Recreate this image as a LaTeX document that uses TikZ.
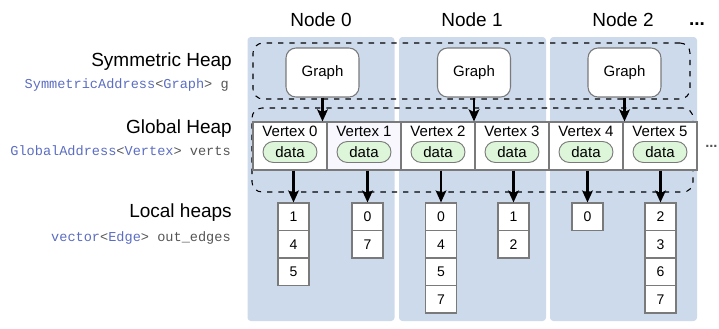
\documentclass[tikz,border=0pt]{standalone}
\usepackage{fontspec}
\setmainfont{Liberation Sans}
\setmonofont{Liberation Mono}
\usetikzlibrary{arrows.meta}
\definecolor{colfill}{HTML}{CCDAEC}
\definecolor{codeblue}{HTML}{5B6DC2}
\definecolor{codegray}{HTML}{555555}
\definecolor{datafill}{HTML}{DDF5D8}
\definecolor{cellgray}{HTML}{7A7A7A}
\definecolor{lightcell}{HTML}{F7F7FD}
\tikzset{
  colbox/.style={fill=colfill, draw=none, rounded corners=2.5pt, minimum width=110.25pt, minimum height=213pt, inner sep=0pt},
  nodelabel/.style={font=\fontsize{14.25}{16}\selectfont, inner sep=0pt},
  heading/.style={font=\fontsize{14.25}{16}\selectfont, anchor=east, inner sep=0pt},
  codelabel/.style={font=\fontsize{10.2}{12}\selectfont\ttfamily, anchor=east, inner sep=0pt},
  region/.style={draw=black, line width=0.8pt, dash pattern=on 4pt off 4.5pt, rounded corners=7.5pt, inner sep=0pt},
  graphbox/.style={draw=cellgray, fill=white, line width=0.8pt, rounded corners=7.5pt, minimum width=54.75pt, minimum height=36.75pt, inner sep=0pt, font=\fontsize{11.25}{13}\selectfont},
  vcell/.style={draw=cellgray, fill=white, line width=0.8pt, minimum width=55.5pt, minimum height=36pt, inner sep=0pt},
  vtext/.style={font=\fontsize{11.25}{13}\selectfont, inner sep=0pt},
  datapill/.style={draw=cellgray, fill=datafill, line width=0.7pt, rounded corners=7.8pt, minimum width=40.5pt, minimum height=15.75pt, inner sep=0pt, font=\fontsize{11.25}{13}\selectfont},
  hcell/.style={draw=cellgray, fill=white, line width=0.8pt, minimum width=23.25pt, minimum height=20.6pt, inner sep=0pt, font=\fontsize{10.5}{12}\selectfont},
  arr/.style={line width=1.8pt, -{Stealth[length=9pt,width=8pt,inset=2pt]}},
}
\newcommand{\cb}[1]{\textcolor{codeblue}{#1}}
\newcommand{\cg}[1]{\textcolor{codegray}{#1}}
\begin{document}
\begin{tikzpicture}[x=0.75pt,y=-0.75pt]
\useasboundingbox (0,0) rectangle (719,329);
% columns
\node[colbox] (col0) at (321,179) {};
\node[colbox] (col1) at (472.5,179) {};
\node[colbox] (col2) at (623.5,179) {};
% column titles
\node[nodelabel] (t0) at (321,20) {Node 0};
\node[nodelabel] (t1) at (472,20) {Node 1};
\node[nodelabel] (t2) at (623,20) {Node 2};
\node[nodelabel, anchor=base] (tdots) at (697,25) {\textbf{...}};
% left labels
\node[heading] (hsym) at (232,62) {Symmetric Heap};
\node[codelabel] (csym) at (229,85) {\cb{SymmetricAddress}\cg{<}\cb{Graph}\cg{> g}};
\node[heading] (hglob) at (232,129) {Global Heap};
\node[codelabel] (cglob) at (231,151) {\cb{GlobalAddress}\cg{<}\cb{Vertex}\cg{> verts}};
\node[heading] (hloc) at (232,213) {Local heaps};
\node[codelabel] (cloc) at (231,238) {\cb{vector}\cg{<}\cb{Edge}\cg{> out\_edges}};
% dashed regions
\node[region, minimum width=327.75pt, minimum height=42pt] (symreg) at (471.5,71) {};
\node[region, minimum width=330.75pt, minimum height=63pt] (globreg) at (472.5,150) {};
% graph boxes
\node[graphbox] (g0) at (322.5,72.5) {Graph};
\node[graphbox] (g1) at (474,72.5) {Graph};
\node[graphbox] (g2) at (624.5,72.5) {Graph};
% vertex cells
\foreach \i/\x in {0/290,1/364,2/438,3/512,4/586,5/660}{
  \ifnum\i=1
    \node[vcell, fill=lightcell] (v\i) at (\x,146) {};
  \else
    \node[vcell] (v\i) at (\x,146) {};
  \fi
  \node[vtext] (vt\i) at (\x,131) {Vertex \i};
  \node[datapill] (d\i) at (\x,152) {data};
}
\node[font=\fontsize{11}{12}\selectfont\bfseries, text=codegray, anchor=west, inner sep=0pt] (rdots) at (705,146) {...};
% local heap cells
\foreach \name/\x/\vals in {h0/293.5/{1,4,5}, h1/367.5/{0,7}, h2/441/{0,4,5,7}, h3/513.5/{1,2}, h4/587.5/{0}, h5/660.5/{2,3,6,7}}{
  \foreach \v [count=\k] in \vals {
    \node[hcell] (\name r\k) at (\x,{203+27.5*(\k-0.5)}) {\v};
  }
}
% arrows graph -> vertex row
\draw[arr] (g0.south) -- (g0.south |- v0.north);
\draw[arr] (g1.south) -- (g1.south |- v2.north);
\draw[arr] (g2.south) -- (g2.south |- v4.north);
% arrows vertex -> local heaps
\foreach \i in {0,...,5}{
  \draw[arr] (v\i.south -| h\i r1.north) -- (h\i r1.north);
}
\end{tikzpicture}
\end{document}
